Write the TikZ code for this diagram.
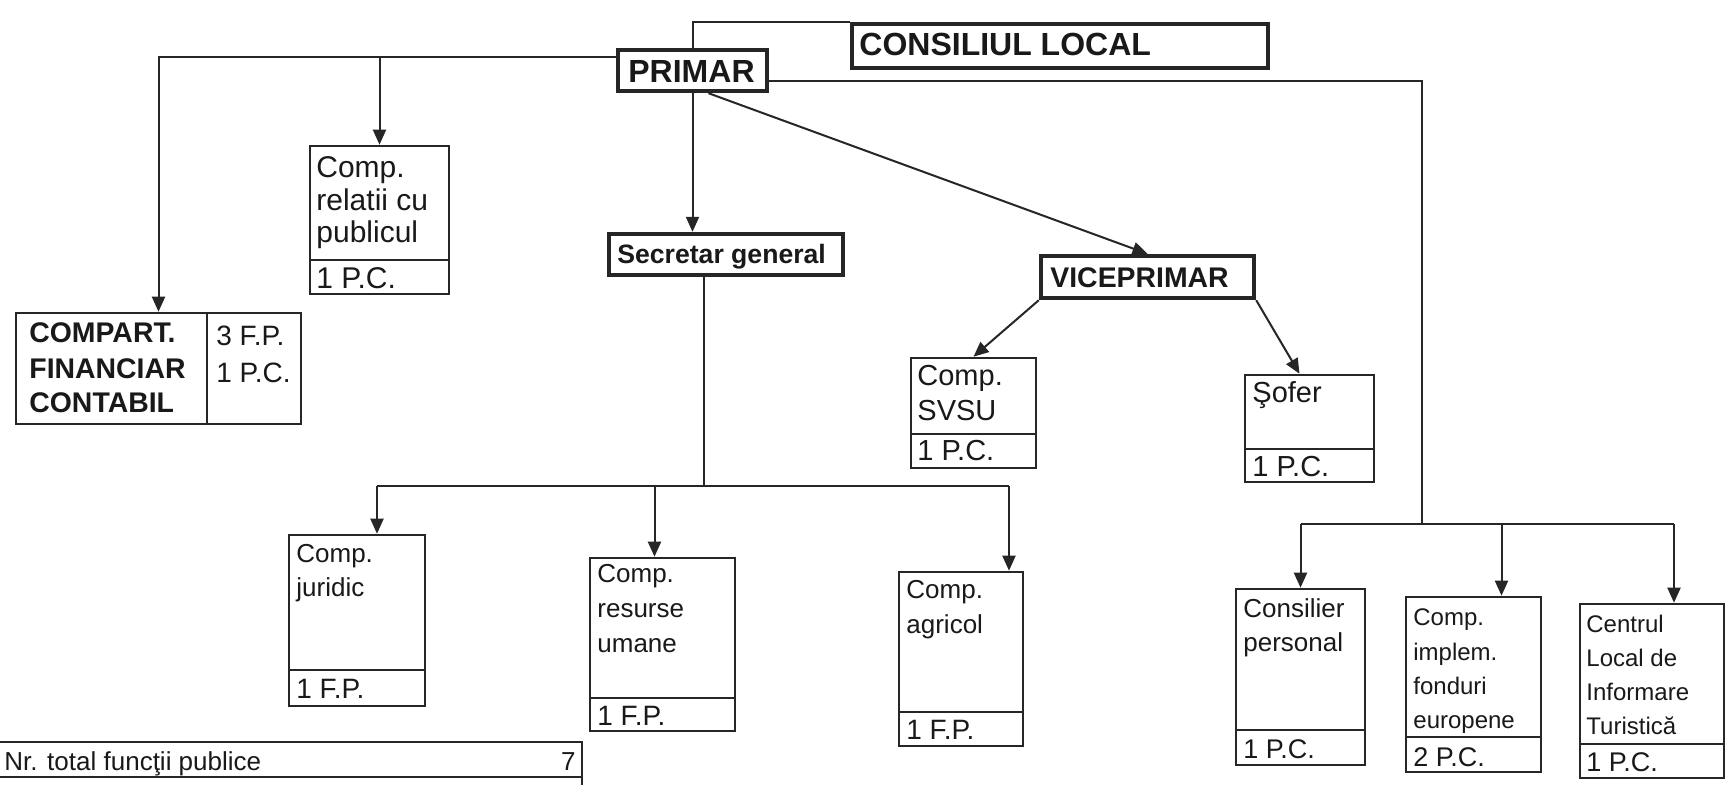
\documentclass[tikz,border=0pt]{standalone}
\usepackage{fontspec}
\setmainfont{Liberation Sans}
\usetikzlibrary{arrows.meta,fit}
\begin{document}
\begin{tikzpicture}[x=0.5pt,y=-0.5pt,
  box/.style={draw=black!85, line width=1.3pt, inner sep=0pt},
  hbox/.style={draw=black!85, line width=2.2pt, inner sep=0pt},
  div/.style={draw=black!85, line width=1.3pt},
  con/.style={draw=black!85, line width=1pt},
  arr/.style={con, -{Triangle[length=7.5pt,width=6.5pt]}},
  lbl/.style={anchor=base west, inner sep=0pt, text=black!90},
  fB/.style={font=\bfseries\fontsize{16pt}{19pt}\selectfont},
  fBm/.style={font=\bfseries\fontsize{14.2pt}{17pt}\selectfont},
  fBs/.style={font=\bfseries\fontsize{13.3pt}{16pt}\selectfont},
  fL/.style={font=\fontsize{15pt}{18pt}\selectfont},
  fM/.style={font=\fontsize{14.5pt}{17pt}\selectfont},
  fN/.style={font=\fontsize{13pt}{16pt}\selectfont},
  fS/.style={font=\fontsize{12pt}{15pt}\selectfont},
  fC/.style={font=\fontsize{14pt}{17pt}\selectfont},
  fCs/.style={font=\fontsize{13.5pt}{16pt}\selectfont},
]
\useasboundingbox (0,0) rectangle (1731,784);
\clip (0,0) rectangle (1731,784);
\fill[white] (0,0) rectangle (1731,784);

% ---- top level boxes
\node[hbox, fit={(852,24) (1268,68)}] (cl) {};
\node[lbl, fB] (clT) at (859,55) {CONSILIUL LOCAL};

\node[hbox, fit={(618,50) (767,91)}] (pr) {};
\node[lbl, fB] (prT) at (628,82) {PRIMAR};

\node[hbox, fit={(609,234) (843,275)}] (sg) {};
\node[lbl, fBs] (sgT) at (617,263) {Secretar general};

\node[hbox, fit={(1041,256) (1254,298)}] (vp) {};
\node[lbl, fBm] (vpT) at (1050,287) {VICEPRIMAR};

% ---- COMPART. FINANCIAR CONTABIL
\node[box, fit={(16,313) (301,424)}] (fc) {};
\draw[div] (207,313) -- (207,424);
\node[lbl, fBm] (fc1) at (29,342) {COMPART.};
\node[lbl, fBm] (fc2) at (29,378) {FINANCIAR};
\node[lbl, fBm] (fc3) at (29,412) {CONTABIL};
\node[lbl, fC] (fc4) at (216,345) {3 F.P.};
\node[lbl, fC] (fc5) at (216,382) {1 P.C.};

% ---- Comp. relatii cu publicul
\node[box, fit={(310,146) (449,294)}] (rp) {};
\draw[div] (310,260) -- (449,260);
\node[lbl, fL] (rp1) at (316,177) {Comp.};
\node[lbl, fL] (rp2) at (316,210) {relatii cu};
\node[lbl, fL] (rp3) at (316,242) {publicul};
\node[lbl, fL] (rp4) at (316,288) {1 P.C.};

% ---- Comp. SVSU
\node[box, fit={(911,358) (1036,468)}] (sv) {};
\draw[div] (911,434) -- (1036,434);
\node[lbl, fM] (sv1) at (917,385) {Comp.};
\node[lbl, fM] (sv2) at (917,420) {SVSU};
\node[lbl, fM] (sv3) at (917,460) {1 P.C.};

% ---- Sofer
\node[box, fit={(1245,375) (1374,482)}] (so) {};
\draw[div] (1245,449) -- (1374,449);
\node[lbl, fM] (so1) at (1252,402) {Şofer};
\node[lbl, fM] (so2) at (1252,476) {1 P.C.};

% ---- Comp. juridic
\node[box, fit={(289,535) (425,706)}] (ju) {};
\draw[div] (289,670) -- (425,670);
\node[lbl, fN] (ju1) at (296,562) {Comp.};
\node[lbl, fN] (ju2) at (296,596) {juridic};
\node[lbl, fC] (ju3) at (296,698) {1 F.P.};

% ---- Comp. resurse umane
\node[box, fit={(590,558) (735,731)}] (ru) {};
\draw[div] (590,698) -- (735,698);
\node[lbl, fN] (ru1) at (597,582) {Comp.};
\node[lbl, fN] (ru2) at (597,617) {resurse};
\node[lbl, fN] (ru3) at (597,652) {umane};
\node[lbl, fC] (ru4) at (597,725) {1 F.P.};

% ---- Comp. agricol
\node[box, fit={(899,572) (1023,746)}] (ag) {};
\draw[div] (899,712) -- (1023,712);
\node[lbl, fN] (ag1) at (906,598) {Comp.};
\node[lbl, fN] (ag2) at (906,633) {agricol};
\node[lbl, fC] (ag3) at (906,739) {1 F.P.};

% ---- Consilier personal
\node[box, fit={(1236,589) (1365,765)}] (cp) {};
\draw[div] (1236,730) -- (1365,730);
\node[lbl, fN] (cp1) at (1243,617) {Consilier};
\node[lbl, fN] (cp2) at (1243,651) {personal};
\node[lbl, fCs] (cp3) at (1243,758) {1 P.C.};

% ---- Comp. implem. fonduri europene
\node[box, fit={(1406,597) (1541,772)}] (fe) {};
\draw[div] (1406,737) -- (1541,737);
\node[lbl, fS] (fe1) at (1413,625) {Comp.};
\node[lbl, fS] (fe2) at (1413,660) {implem.};
\node[lbl, fS] (fe3) at (1413,694) {fonduri};
\node[lbl, fS] (fe4) at (1413,728) {europene};
\node[lbl, fCs] (fe5) at (1413,766) {2 P.C.};

% ---- Centrul Local de Informare Turistica
\node[box, fit={(1580,604) (1724,778)}] (ct) {};
\draw[div] (1580,744) -- (1724,744);
\node[lbl, fS] (ct1) at (1586,632) {Centrul};
\node[lbl, fS] (ct2) at (1586,666) {Local de};
\node[lbl, fS] (ct3) at (1586,700) {Informare};
\node[lbl, fS] (ct4) at (1586,734) {Turistică};
\node[lbl, fCs] (ct5) at (1586,771) {1 P.C.};

% ---- bottom table
\node[box, fit={(-6,742) (582,812)}] (tb) {};
\draw[div] (-6,777) -- (582,777);
\node[lbl, fN] (tb1) at (4,770) {Nr. total funcţii publice};
\node[lbl, fN, anchor=base east] (tb2) at (576,770) {7};

% ---- connectors
% PRIMAR -> CONSILIUL LOCAL
\draw[con] (pr.north) |- (cl.north west);
% PRIMAR -> left branch
\coordinate (tl) at ([yshift=7pt]pr.west);
\draw[arr] (tl) -| (fc.north);
\draw[arr] (rp.north |- tl) -- (rp.north);
% PRIMAR -> Secretar general
\draw[arr] (pr.south) -- (pr.south |- sg.north);
% PRIMAR -> VICEPRIMAR
\draw[arr] ([xshift=8pt]pr.south) -- (vp.north);
% VICEPRIMAR -> SVSU, Sofer
\draw[arr] (vp.south west) -- (sv.north);
\draw[arr] (vp.south east) -- ([xshift=-5pt]so.north);
% PRIMAR -> right branch
\coordinate (tr) at ([yshift=-5pt]pr.east);
\coordinate (rb) at (1422,524);
\draw[con] (tr) -| (rb);
\coordinate (ra1) at (cp.north);
\coordinate (ra2) at ([xshift=14pt]fe.north);
\coordinate (ra3) at ([xshift=11pt]ct.north);
\draw[con] (ra1 |- rb) -- (ra3 |- rb);
\draw[arr] (ra1 |- rb) -- (ra1);
\draw[arr] (ra2 |- rb) -- (ra2);
\draw[arr] (ra3 |- rb) -- (ra3);
% Secretar general -> branch
\coordinate (sb) at (704,486);
\draw[con] ([xshift=-11pt]sg.south) -- ([xshift=-11pt]sg.south |- sb);
\coordinate (sa1) at ([xshift=10pt]ju.north);
\coordinate (sa2) at ([xshift=-4pt]ru.north);
\coordinate (sa3) at ([xshift=24pt]ag.north);
\draw[con] (sa1 |- sb) -- (sa3 |- sb);
\draw[arr] (sa1 |- sb) -- (sa1);
\draw[arr] (sa2 |- sb) -- (sa2);
\draw[arr] (sa3 |- sb) -- (sa3);
\end{tikzpicture}
\end{document}
